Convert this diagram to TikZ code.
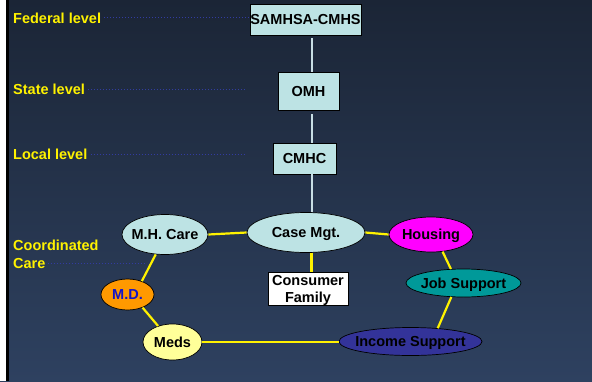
\documentclass[tikz,border=0pt]{standalone}
\usepackage{fontspec}
\setmainfont{Liberation Sans}
\usetikzlibrary{shapes.geometric}
\definecolor{bgtop}{RGB}{27,37,54}
\definecolor{bgbot}{RGB}{46,65,96}
\definecolor{boxcyan}{RGB}{189,227,228}
\definecolor{spinecol}{RGB}{200,222,228}
\definecolor{dotblue}{RGB}{50,60,160}
\definecolor{mdorange}{RGB}{255,153,0}
\definecolor{mdblue}{RGB}{20,20,200}
\definecolor{medsyellow}{RGB}{255,255,153}
\definecolor{incomeblue}{RGB}{51,51,153}
\definecolor{jobteal}{RGB}{0,153,153}
\definecolor{housmag}{RGB}{255,0,255}
\newcommand\zbox[1]{\makebox[0pt][c]{#1}}
\begin{document}
\begin{tikzpicture}[x=1pt,y=-1pt,
  txt/.style={font=\bfseries\fontsize{14.5}{17}\selectfont, text depth=0pt},
  lvl/.style={txt, text=yellow, anchor=west, inner sep=0pt},
  rbox/.style={txt, draw=black, line width=0.9pt, fill=boxcyan, inner sep=0pt},
  ell/.style={txt, ellipse, draw=black, line width=0.7pt, inner sep=0pt},
  spine/.style={draw=spinecol, line width=2pt},
  link/.style={draw=yellow, line width=2.2pt},
  dots/.style={draw=dotblue, line width=1pt, dash pattern=on 1pt off 2pt}]
\useasboundingbox (0,0) rectangle (592,381);
% background
\shade[top color=bgtop, bottom color=bgbot] (0,0) rectangle (592,381);
\fill[white] (0,0) rectangle (6,381);
\fill[black] (6,0) rectangle (8.5,381);

% level labels
\node[lvl] (fed) at (13,18.5) {Federal level};
\node[lvl] (state) at (13,89) {State level};
\node[lvl] (local) at (13,154) {Local level};
\node[lvl] (cc1) at (13,245.5) {Coordinated};
\node[lvl] (cc2) at (13,263.5) {Care};

% hierarchy boxes
\node[rbox, minimum width=111pt, minimum height=31pt] (samhsa) at (305.5,19.5) {SAMHSA-CMHS};
\node[rbox, minimum width=61pt, minimum height=38pt] (omh) at (308.5,91) {OMH};
\node[rbox, minimum width=63pt, minimum height=31pt] (cmhc) at (304.5,158.5) {CMHC};

% ellipses
\node[ell, fill=boxcyan, minimum width=118pt, minimum height=40pt] (cm) at (306,232.5) {\zbox{Case Mgt.}};
\node[ell, fill=boxcyan, minimum width=86pt, minimum height=40pt] (mh) at (165,234.5) {\zbox{M.H. Care}};
\node[ell, fill=mdorange, text=mdblue, minimum width=53pt, minimum height=31pt] (md) at (127.5,294.5) {\zbox{M.D.}};
\node[ell, fill=medsyellow, minimum width=59pt, minimum height=36pt] (meds) at (172.5,342) {\zbox{Meds}};
\node[ell, fill=incomeblue, minimum width=143pt, minimum height=28pt] (inc) at (410.5,341.5) {\zbox{Income Support}};
\node[ell, fill=jobteal, minimum width=115pt, minimum height=28pt] (job) at (463.5,283) {\zbox{Job Support}};
\node[ell, fill=housmag, minimum width=84pt, minimum height=35pt] (hous) at (431,234.5) {\zbox{Housing}};

% consumer family
\node[txt, draw=black, line width=0.9pt, fill=white, inner sep=0pt, align=center,
      minimum width=80pt, minimum height=33pt] (cons) at (308,288.5) {Consumer\\Family};

% spine
\coordinate (sp) at (311.5,0);
\draw[spine, shorten <=3pt] (samhsa.south -| sp) -- (omh.north -| sp);
\draw[spine, shorten <=4pt] (omh.south -| sp) -- (cmhc.north -| sp);
\draw[spine] (cmhc.south -| sp) -- (cm.north -| sp);

% dotted level lines
\coordinate (fedend) at (249,17.5);
\coordinate (stateend) at (245,89);
\coordinate (localend) at (246,154);
\coordinate (ccend) at (145,263);
\draw[dots] ([xshift=3pt]fed.east |- fedend) -- (fedend);
\draw[dots] ([xshift=3pt]state.east |- stateend) -- (stateend);
\draw[dots] ([xshift=3pt]local.east |- localend) -- (localend);
\draw[dots] ([xshift=2pt]cc2.east |- ccend) -- (ccend);

% yellow links
\draw[link] (mh.east) -- (cm.west);
\draw[link] (cm.east) -- (hous.west);
\draw[link, line width=3pt] (cm.south -| sp) -- (cons.north -| sp);
\draw[link] (mh.245) -- (md.43);
\draw[link] (md.-41) -- (meds.132);
\draw[link] (meds.east) -- (meds.east -| inc.west);
\draw[link] (hous.-56) -- (job.132);
\draw[link] (job.229) -- (inc.26);
\end{tikzpicture}
\end{document}
